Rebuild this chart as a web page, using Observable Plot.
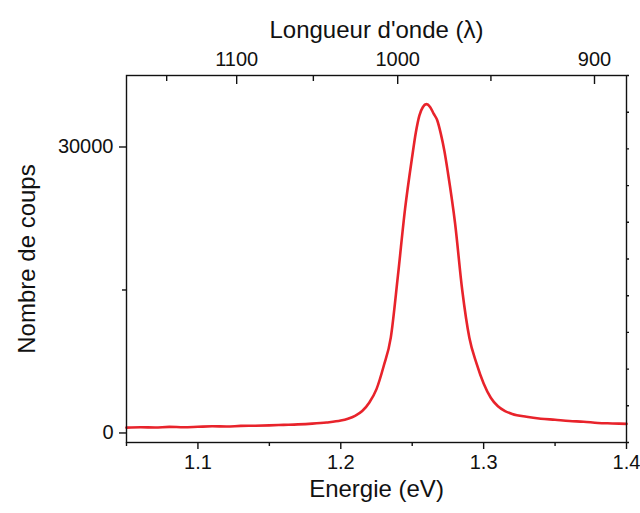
<!DOCTYPE html>
<html><head><meta charset="utf-8">
<script src="https://cdn.jsdelivr.net/npm/d3@7"></script>
<script src="https://cdn.jsdelivr.net/npm/@observablehq/plot@0.6"></script>
<style>body{margin:0;background:#fff}</style>
</head><body><div id="chart"></div>
<script>
const energy = [1.05,1.06,1.07,1.08,1.09,1.10,1.11,1.12,1.13,1.14,1.15,1.16,1.17,1.18,1.19,1.20,1.205,1.21,1.215,1.22,1.225,1.23,1.235,1.24,1.245,1.25,1.2525,1.255,1.2575,1.26,1.2625,1.265,1.2675,1.27,1.2725,1.275,1.28,1.285,1.29,1.295,1.30,1.305,1.31,1.315,1.32,1.33,1.34,1.35,1.36,1.37,1.38,1.39,1.40];
const counts = [560,600,570,640,600,650,700,680,740,760,800,850,900,980,1100,1300,1500,1800,2300,3200,4600,7000,10000,16500,23500,29000,31500,33300,34200,34500,34200,33500,32800,31400,29600,27300,22000,15000,10000,7300,5200,3700,2800,2300,2000,1700,1500,1380,1250,1180,1050,1000,950];

const energyTicks = [1.1, 1.2, 1.3, 1.4];
const energyMinorTicks = [1.05, 1.15, 1.25, 1.35];
const countTicks = [0, 30000];
const countMinorTicks = [15000];
const wavelengthTicks = [1100, 1000, 900];
const wavelengthMinorTicks = [1150, 1050, 950];
const hc = 1239.84;
const xDomain = [1.05, 1.4];
const yDomain = [-1000, 37500];
const rightTicks = d3.range(11).map(i => yDomain[0] + i * (yDomain[1] - yDomain[0]) / 10);

const data = energy.map((e, i) => ({e, c: counts[i]}));
const font = "'Liberation Sans', Arial, Helvetica, sans-serif";
const ink = "#111";
const W = 640, H = 513, mT = 75, mB = 71, mL = 126, mR = 14;
const frameH = H - mT - mB;
const perPx = (yDomain[1] - yDomain[0]) / frameH;

const chart = Plot.plot({
  width: W, height: H,
  marginTop: mT, marginBottom: mB, marginLeft: mL, marginRight: mR,
  style: {fontFamily: font, fontSize: "20px", background: "#fff", color: ink},
  x: {domain: xDomain},
  y: {domain: yDomain},
  marks: [
    Plot.line(data, {x: "e", y: "c", stroke: "#e8232b", strokeWidth: 2.6, curve: "monotone-x"}),
    Plot.frame({stroke: ink, strokeWidth: 1.4}),
    // bottom axis
    Plot.axisX(energyTicks, {anchor: "bottom", tickSize: 7, tickPadding: 5, tickFormat: d => d.toFixed(1), fontSize: 20, label: null, stroke: ink, strokeWidth: 1.4, fill: ink}),
    Plot.axisX(energyMinorTicks, {anchor: "bottom", tickSize: 4, tickFormat: () => "", label: null, stroke: ink, strokeWidth: 1.4}),
    // top axis (wavelength), ticks pointing inward
    Plot.ruleX(wavelengthTicks.map(l => hc / l), {x: d => d, y1: yDomain[1], y2: yDomain[1] - 9 * perPx, stroke: ink, strokeWidth: 1.4}),
    Plot.ruleX(wavelengthMinorTicks.map(l => hc / l), {x: d => d, y1: yDomain[1], y2: yDomain[1] - 6 * perPx, stroke: ink, strokeWidth: 1.4}),
    Plot.axisX(wavelengthTicks.map(l => hc / l), {anchor: "top", tickSize: 0, tickPadding: 10, tickFormat: d => String(Math.round(hc / d)), fontSize: 20, label: null, fill: ink}),
    // left axis
    Plot.axisY(countTicks, {anchor: "left", tickSize: 7, tickPadding: 6, tickFormat: d => String(d), fontSize: 20, label: null, stroke: ink, strokeWidth: 1.4, fill: ink}),
    Plot.axisY(countMinorTicks, {anchor: "left", tickSize: 4, tickFormat: () => "", label: null, stroke: ink, strokeWidth: 1.4}),
    // right axis
    Plot.axisY(rightTicks, {anchor: "right", tickSize: 2, tickFormat: () => "", label: null, stroke: ink, strokeWidth: 1.4}),
    // titles
    Plot.text(["Energie (eV)"], {text: d => d, frameAnchor: "bottom", dy: 54, fontSize: 24, fill: ink}),
    Plot.text(["Longueur d'onde (λ)"], {text: d => d, frameAnchor: "top", dy: -55, fontSize: 24, fill: ink}),
    Plot.text(["Nombre de coups"], {text: d => d, frameAnchor: "left", textAnchor: "middle", dx: -99, rotate: -90, fontSize: 24, fill: ink})
  ]
});
document.getElementById("chart").appendChild(chart);
</script>
</body></html>
